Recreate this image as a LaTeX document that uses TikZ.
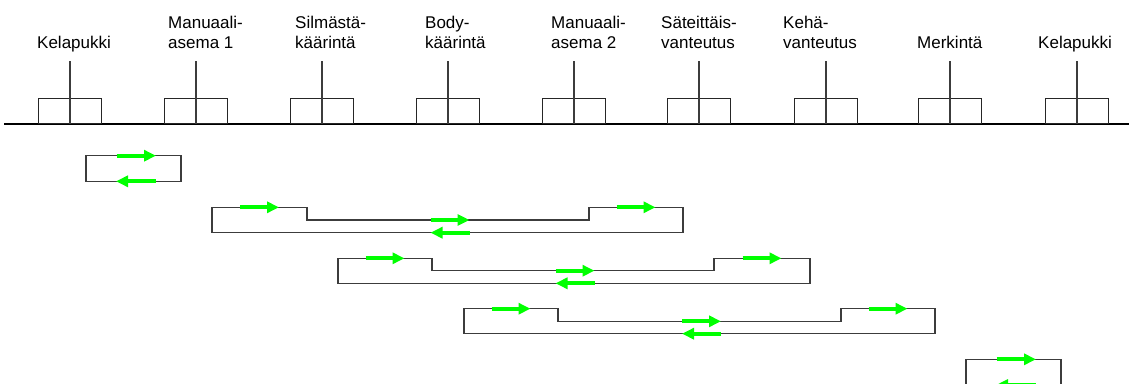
\documentclass[tikz,border=0pt]{standalone}
\usepackage{fontspec}
\setmainfont{Liberation Sans}
\usetikzlibrary{arrows.meta}
\definecolor{flowgreen}{RGB}{0,255,0}
\definecolor{linegray}{RGB}{60,60,60}
\tikzset{
  stbox/.style={draw=black!85, line width=1.2pt, minimum width=63pt, minimum height=25pt, inner sep=0pt, anchor=south},
  post/.style={draw=linegray, line width=1.2pt},
  ground/.style={draw=black, line width=1.3pt},
  track/.style={draw=linegray, line width=1.3pt, line join=miter},
  flow/.style={draw=flowgreen, line width=4pt, -{Triangle[length=12pt,width=11pt]}},
  lbl/.style={anchor=base west, inner sep=0pt, font=\fontsize{17}{20}\selectfont},
}
\newcommand{\twol}[2]{\begin{tabular}[b]{@{}l@{}}#1\\#2\end{tabular}}
\begin{document}
\begin{tikzpicture}[x=1pt,y=-1pt]
\useasboundingbox (0,0) rectangle (1129,383);
\clip (0,0) rectangle (1129,383);
% ground line
\coordinate (g0) at (4,124);
\coordinate (g1) at (1129,124);
\draw[ground] (g0) -- (g1);
% stations
\foreach \i/\c in {1/70,2/196,3/322,4/448,5/574,6/699,7/826,8/950,9/1077}{
  \node[stbox] (s\i) at (\c,124) {};
  \coordinate (t\i) at (\c,61);
  \draw[post] (s\i.south) -- (t\i);
}
% labels
\node[lbl] (l1) at (37,48.8) {Kelapukki};
\node[lbl] (l2) at (168,48.8) {\twol{Manuaali-}{asema 1}};
\node[lbl] (l3) at (295,48.8) {\twol{Silmästä-}{käärintä}};
\node[lbl] (l4) at (425,48.8) {\twol{Body-}{käärintä}};
\node[lbl] (l5) at (551,48.8) {\twol{Manuaali-}{asema 2}};
\node[lbl] (l6) at (661,48.8) {\twol{Säteittäis-}{vanteutus}};
\node[lbl] (l7) at (783,48.8) {\twol{Kehä-}{vanteutus}};
\node[lbl] (l8) at (917,48.8) {Merkintä};
\node[lbl] (l9) at (1038,48.8) {Kelapukki};
% short loop 1
\draw[track] (86,155.7) rectangle (181,181.3);
\draw[flow] (116.5,155.7) -- (156,155.7);
\draw[flow] (155.5,181.3) -- (116,181.3);
% long loops
\foreach \L/\A/\B/\R/\yt/\ym/\yb in {212/307/589/683/207.3/220/232.7, 338/432/714/810/258.3/270.7/283.3, 464/558/841/935/308.7/321.3/333.7}{
  \draw[track] (\L,\yt) -- (\A,\yt) -- (\A,\ym) -- (\B,\ym) -- (\B,\yt) -- (\R,\yt) -- (\R,\yb) -- (\L,\yb) -- cycle;
  \pgfmathsetmacro{\xa}{(\L+\A)/2}
  \pgfmathsetmacro{\xb}{(\A+\B)/2+2}
  \pgfmathsetmacro{\xc}{(\B+\R)/2}
  \draw[flow] (\xa-19.5,\yt) -- (\xa+19.5,\yt);
  \draw[flow] (\xb-19.5,\ym) -- (\xb+19.5,\ym);
  \draw[flow] (\xb+19.5,\yb) -- (\xb-19.5,\yb);
  \draw[flow] (\xc-19.5,\yt) -- (\xc+19.5,\yt);
}
% short loop 5
\draw[track] (966,359.3) rectangle (1061,385);
\draw[flow] (996.5,359.3) -- (1036,359.3);
\draw[flow] (1035.5,385) -- (996,385);
\end{tikzpicture}
\end{document}
